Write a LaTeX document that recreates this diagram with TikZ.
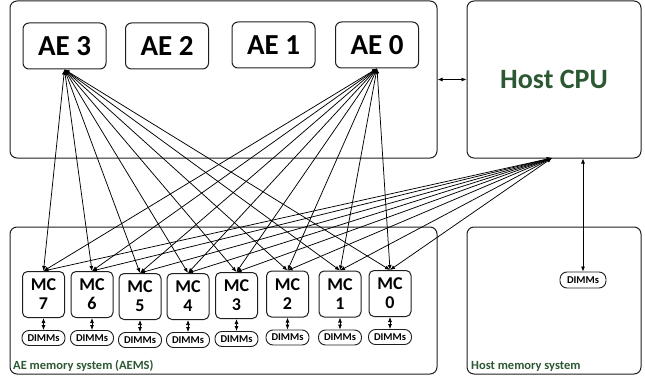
\documentclass[tikz,border=0pt]{standalone}
\usepackage{fontspec}
\setmainfont{Carlito}
\usetikzlibrary{arrows.meta,calc}
\definecolor{lblgreen}{RGB}{44,88,52}
\definecolor{edge}{RGB}{30,30,30}
\begin{document}
\begin{tikzpicture}[x=1pt,y=-1pt,
  panel/.style={draw=edge,line width=1pt,rounded corners=7pt,inner sep=0pt},
  aebox/.style={draw=edge,line width=1pt,rounded corners=6pt,minimum width=83pt,minimum height=46pt,inner sep=0pt,font=\bfseries\fontsize{29}{31}\selectfont},
  mcbox/.style={draw=edge,line width=1pt,rounded corners=5pt,minimum width=42pt,minimum height=46pt,inner sep=0pt,align=center,font=\bfseries\fontsize{18}{19}\selectfont},
  dimm/.style={draw=edge,line width=0.9pt,rounded corners=7pt,minimum width=43pt,minimum height=15pt,inner sep=0pt,font=\bfseries\fontsize{10.5}{11}\selectfont},
  syslabel/.style={anchor=west,inner sep=0pt,text=lblgreen,font=\bfseries\fontsize{12.5}{13}\selectfont},
  link/.style={line width=0.75pt,{Latex[length=5pt,width=4pt]}-{Latex[length=5pt,width=4pt]}}]
\useasboundingbox (0,0) rectangle (645,377);

% outer panels
\node[panel,minimum width=427pt,minimum height=157pt] (aepanel) at (223.5,79.5) {};
\node[panel,minimum width=174pt,minimum height=157pt,text=lblgreen,font=\bfseries\fontsize{28}{30}\selectfont] (cpu) at (554,79.5) {Host CPU};
\node[panel,minimum width=427pt,minimum height=147pt] (aems) at (223.5,300.5) {};
\node[panel,minimum width=174pt,minimum height=147pt] (hostmem) at (554,300.5) {};

% application engines
\node[aebox] (ae3) at (64.5,46) {AE 3};
\node[aebox] (ae2) at (167,46) {AE 2};
\node[aebox] (ae1) at (273.5,45) {AE 1};
\node[aebox] (ae0) at (377,45) {AE 0};

% memory controllers with their DIMMs
\foreach \i/\x/\y in {7/43.5/294.5, 6/92/294.5, 5/140/296.5, 4/188/296.5, 3/236.5/295.5, 2/287.5/294, 1/340/294, 0/390/293.5}{
  \node[mcbox] (mc\i) at (\x,\y) {MC\\\i};
  \node[dimm] (dimm\i) at (\x,\y+43.5) {DIMMs};
  \draw[link] (mc\i.south) -- (dimm\i.north);
}

% host memory
\node[dimm,minimum width=46pt,minimum height=16pt] (hdimm) at (583,280) {DIMMs};

% system labels
\node[syslabel] (aemslbl) at (13,366) {AE memory system (AEMS)};
\node[syslabel] (hostlbl) at (471,366) {Host memory system};

% interconnect
\coordinate (cpuin) at (552,158);
\foreach \i in {0,...,7}{
  \draw[link] (ae3.south) -- (mc\i.north);
  \draw[link] (ae0.south) -- (mc\i.north);
  \draw[link] (cpuin) -- (mc\i.north);
}
\draw[link] (aepanel.east) -- (cpu.west);
\draw[link] (hdimm.north |- cpu.south) -- (hdimm.north);
\end{tikzpicture}
\end{document}
